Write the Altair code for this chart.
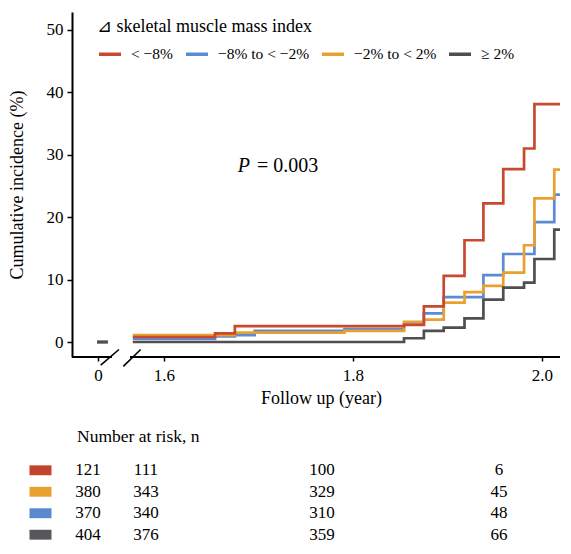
import altair as alt
import pandas as pd

FONT = "Liberation Serif"

# ---------------- data ----------------
series_names = ["< −8%", "−8% to < −2%", "−2% to < 2%", "≥ 2%"]
series_colors = ["#C9492F", "#5B8BD3", "#E9A02E", "#4F4F52"]

# times of the steps (years) on the zoomed part of the axis
step_times = [1.567, 1.654, 1.675, 1.696, 1.791, 1.854, 1.875, 1.896,
              1.918, 1.938, 1.959, 1.981, 1.992, 2.013, 2.019]
red_vals = [0.8, 1.4, 2.55, 2.55, 2.55, 2.75, 5.7, 10.6, 16.3, 22.2, 27.7, 31.0, 38.1, 38.1, 38.1]
blue_vals = [0.5, 0.9, 1.1, 1.8, 2.05, 2.8, 4.6, 7.2, 7.2, 10.7, 14.1, 14.1, 19.2, 23.6, 23.6]
orange_vals = [1.1, 1.1, 1.5, 1.5, 1.8, 3.25, 3.6, 6.3, 8.0, 9.0, 11.1, 15.5, 23.0, 27.6, 27.6]
gray_vals = [0.0, 0.0, 0.0, 0.0, 0.0, 0.6, 1.8, 2.3, 3.8, 6.8, 8.7, 9.5, 13.3, 18.0, 18.0]

# the "0" time point, drawn left of the axis break
zero_times = [1.5291, 1.5407]
zero_vals = [0.0, 0.0]

# axis layout (display coordinates on the broken axis)
x_domain = [1.50265, 2.01905]
y_domain = [-2.40, 52.86]
x_tick_values = [1.53016, 1.6, 1.8, 2.0]
y_tick_values = [0, 10, 20, 30, 40, 50]
axis_line_starts = [1.50265, 1.56402]
axis_line_ends = [1.54497, 2.01905]
slash_x1 = [1.53302, 1.55693]
slash_x2 = [1.55238, 1.57534]
slash_y1 = [-3.7, -3.9]
slash_y2 = [-1.2, -1.2]

# number at risk table
risk_rows = ["< −8%", "−2% to < 2%", "−8% to < −2%", "≥ 2%"]
risk_row_colors = ["#C1442B", "#E6A12F", "#5A89CE", "#55575B"]
risk_col_times = [1.51958, 1.58095, 1.7672, 1.9545]
risk_red = [121, 111, 100, 6]
risk_orange = [380, 343, 329, 45]
risk_blue = [370, 340, 310, 48]
risk_gray = [404, 376, 359, 66]
risk_square_time = 1.46931

# ---------------- tables ----------------
rows = []
for name, vals in [("−8% to < −2%", blue_vals), ("−2% to < 2%", orange_vals),
                   ("≥ 2%", gray_vals), ("< −8%", red_vals)]:
    for t, v in zip(step_times, vals):
        rows.append({"series": name, "t": t, "v": v})
curves = pd.DataFrame(rows)

zero_df = pd.DataFrame({"t": zero_times, "v": zero_vals})
axis_df = pd.DataFrame({"x": axis_line_starts, "x2": axis_line_ends, "y": [y_domain[0]] * 2})
slash_df = pd.DataFrame({"x": slash_x1, "x2": slash_x2, "y": slash_y1, "y2": slash_y2})

risk_records = []
for name, vals in zip(risk_rows, [risk_red, risk_orange, risk_blue, risk_gray]):
    for t, n in zip(risk_col_times, vals):
        risk_records.append({"row": name, "t": t, "n": str(n)})
risk_df = pd.DataFrame(risk_records)
square_df = pd.DataFrame({"row": risk_rows, "t": [risk_square_time] * 4})

# ---------------- scales ----------------
x_scale = alt.Scale(domain=x_domain, nice=False, zero=False)
y_scale = alt.Scale(domain=y_domain, nice=False, zero=False)
color_scale = alt.Scale(domain=series_names, range=series_colors)

x_axis = alt.Axis(
    values=x_tick_values,
    labelExpr="datum.value < 1.55 ? '0' : format(datum.value, '.1f')",
    domain=False, grid=False, ticks=True, tickSize=4, tickWidth=1.5, tickColor="black",
    labelFont=FONT, labelFontSize=17, labelColor="black", labelPadding=6,
    title="Follow up (year)", titleFont=FONT, titleFontSize=18, titleFontWeight="normal",
    titleColor="black", titlePadding=6, titleX=249,
)
y_axis = alt.Axis(
    values=y_tick_values, domain=True, domainColor="black", domainWidth=2,
    grid=False, ticks=True, tickSize=5, tickWidth=1.5, tickColor="black",
    labelFont=FONT, labelFontSize=17, labelColor="black", labelPadding=4,
    title="Cumulative incidence (%)", titleFont=FONT, titleFontSize=18,
    titleFontWeight="normal", titleColor="black", titlePadding=20,
)

legend = alt.Legend(
    title="⊿ skeletal muscle mass index", orient="none", legendX=25, legendY=6,
    direction="horizontal", columns=4, symbolType="stroke", symbolStrokeWidth=3.5,
    symbolSize=484, labelFont=FONT, labelFontSize=15.5, labelColor="black",
    titleFont=FONT, titleFontSize=18, titleFontWeight="normal", titleColor="black",
    columnPadding=5, labelOffset=8, titlePadding=5, titleLimit=400, labelLimit=300,
)

lines = alt.Chart(curves).mark_line(interpolate="step-after", strokeWidth=2.7, clip=True).encode(
    x=alt.X("t:Q", scale=x_scale, axis=x_axis),
    y=alt.Y("v:Q", scale=y_scale, axis=y_axis),
    color=alt.Color("series:N", scale=color_scale, legend=legend),
)

zero_dash = alt.Chart(zero_df).mark_line(color="#4F4F52", strokeWidth=3.3).encode(
    x=alt.X("t:Q", scale=x_scale), y=alt.Y("v:Q", scale=y_scale)
)

axis_line = alt.Chart(axis_df).mark_rule(color="black", strokeWidth=2).encode(
    x=alt.X("x:Q", scale=x_scale), x2="x2:Q", y=alt.Y("y:Q", scale=y_scale)
)

slashes = alt.Chart(slash_df).mark_rule(color="black", strokeWidth=1.6).encode(
    x=alt.X("x:Q", scale=x_scale), x2="x2:Q",
    y=alt.Y("y:Q", scale=y_scale), y2="y2:Q"
)

p_italic = alt.Chart(pd.DataFrame({"s": ["P"]})).mark_text(
    font=FONT, fontSize=20, fontStyle="italic", align="right", baseline="middle", color="black"
).encode(x=alt.value(178), y=alt.value(154), text="s:N")

p_rest = alt.Chart(pd.DataFrame({"s": ["= 0.003"]})).mark_text(
    font=FONT, fontSize=20, align="left", baseline="middle", color="black"
).encode(x=alt.value(185), y=alt.value(154), text="s:N")

top = alt.layer(lines, zero_dash, axis_line, slashes, p_italic, p_rest).properties(
    width=488, height=345
)

row_scale = alt.Scale(domain=risk_rows, type="point", padding=0.2)
bx_scale = alt.Scale(domain=x_domain, nice=False, zero=False)

square_path = "M-1,-0.45 L1,-0.45 L1,0.45 L-1,0.45 Z"
squares = alt.Chart(square_df).mark_point(
    shape=square_path, size=484, filled=True, opacity=1, strokeWidth=0
).encode(
    x=alt.X("t:Q", scale=bx_scale, axis=None),
    y=alt.Y("row:N", scale=row_scale, axis=None),
    color=alt.Color("row:N", scale=alt.Scale(domain=risk_rows, range=risk_row_colors), legend=None),
)

numbers = alt.Chart(risk_df).mark_text(
    font=FONT, fontSize=17, align="center", baseline="middle", color="black"
).encode(
    x=alt.X("t:Q", scale=bx_scale, axis=None),
    y=alt.Y("row:N", scale=row_scale, axis=None),
    text="n:N",
)

bottom = alt.layer(squares, numbers).resolve_scale(color="independent").properties(
    width=488, height=73,
    title=alt.TitleParams("Number at risk, n", anchor="start", frame="group", font=FONT,
                          fontSize=17.5, fontWeight="normal", color="black", dx=5, offset=15.5),
)

chart = alt.vconcat(top, bottom, spacing=21).resolve_scale(
    x="independent", y="independent", color="independent"
).properties(
    padding={"left": 0, "top": 4, "right": 0, "bottom": 0}
).configure_view(stroke=None)

chart.save("out.html", embed_options={"renderer": "svg", "actions": False})
